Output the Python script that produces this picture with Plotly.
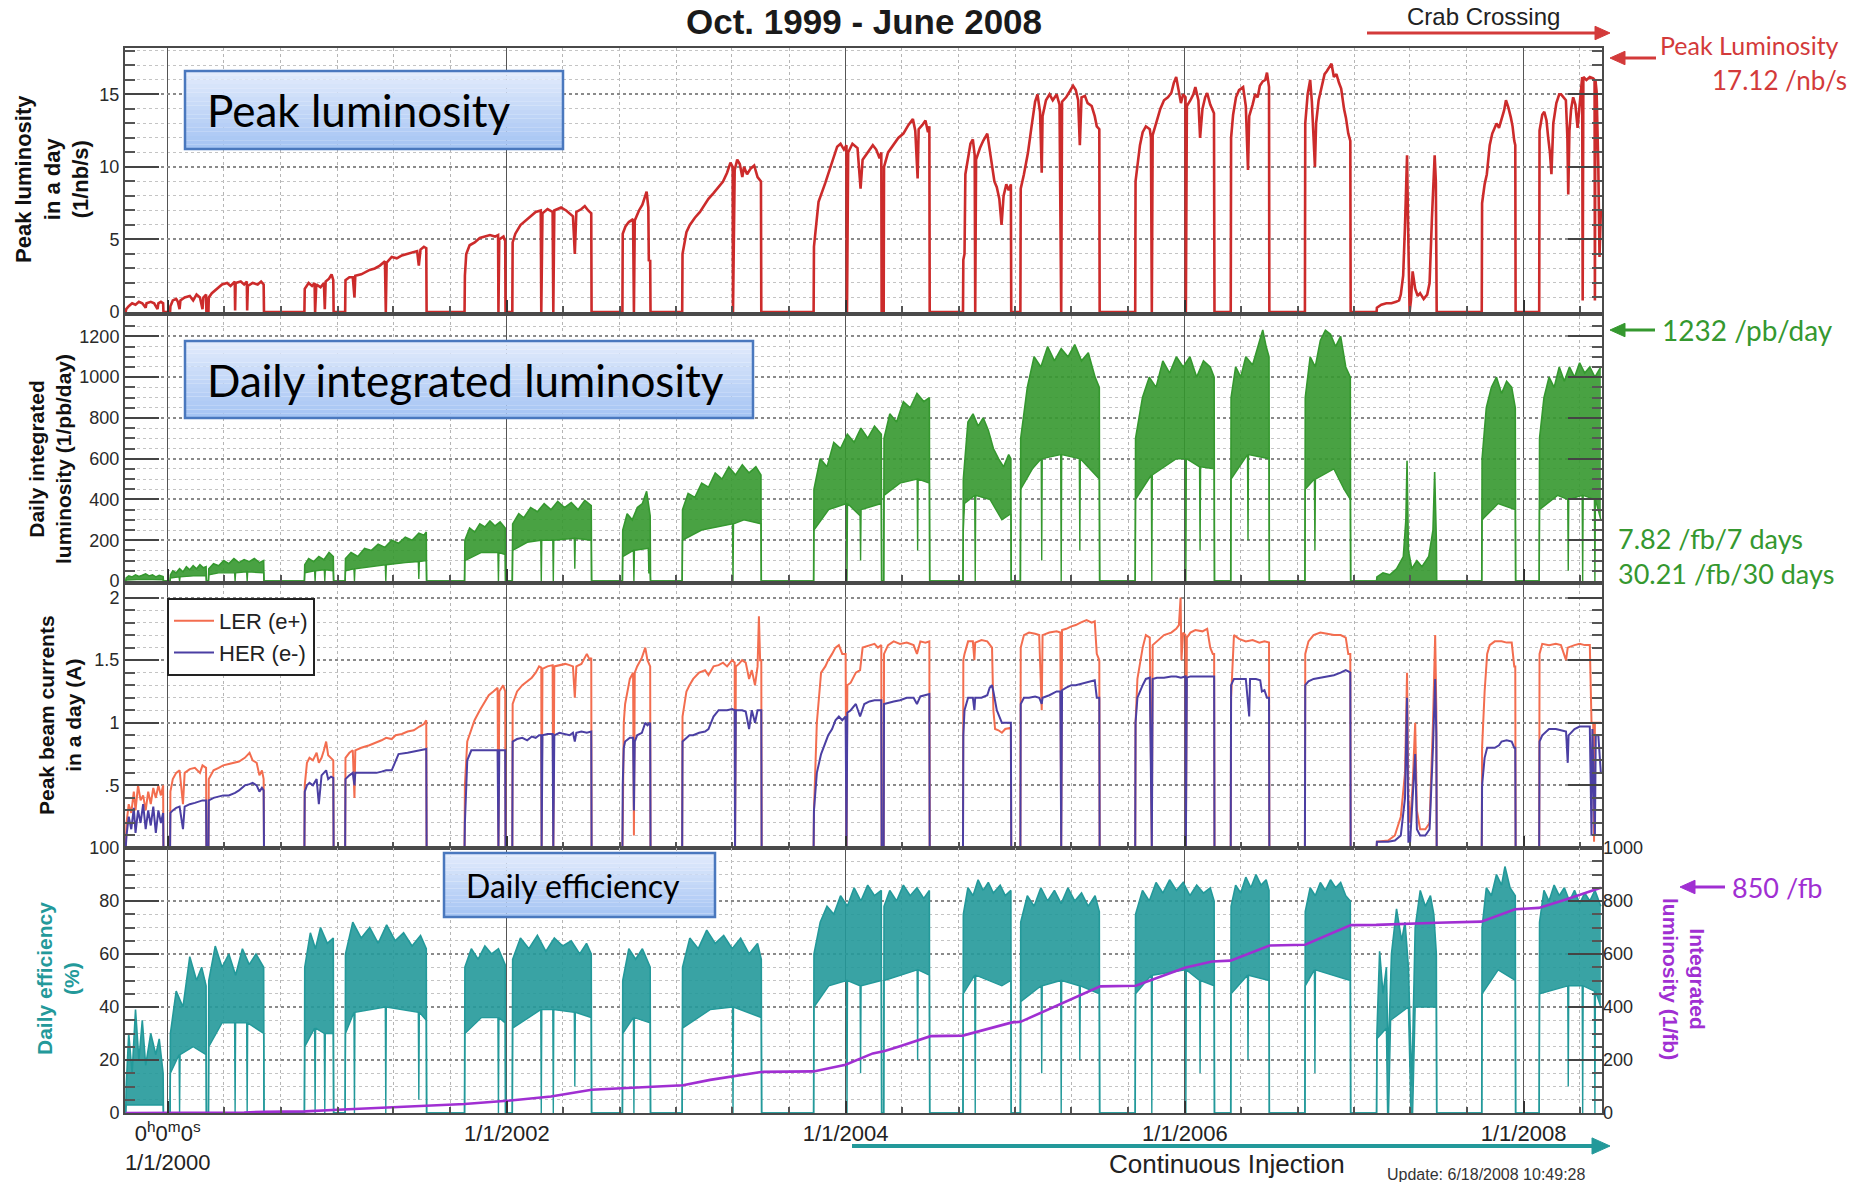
from datetime import datetime
import plotly.graph_objects as go
from plotly.subplots import make_subplots

# ---------------------------------------------------------------------------
# KEKB performance history, Oct. 1999 - June 2008.
# Times are decimal years; values as read per run period.
# ---------------------------------------------------------------------------

# Peak luminosity in a day (1/nb/s)
PEAK_LUMI = [
    (1999.752, 0.0), (1999.755, 0.2), (1999.77, 0.4), (1999.79, 0.6), (1999.81, 0.5), (1999.83, 0.7),
    (1999.85, 0.6), (1999.87, 0.3), (1999.875, 0.6), (1999.90, 0.7), (1999.92, 0.6), (1999.94, 0.2),
    (1999.945, 0.6), (1999.96, 0.7), (1999.973, 0.6), (1999.975, 0.0),
    (2000.014, 0.0), (2000.016, 0.4), (2000.03, 0.8), (2000.05, 0.9), (2000.06, 0.7), (2000.07, 0.2),
    (2000.075, 0.8), (2000.10, 1.0), (2000.13, 1.1), (2000.15, 0.8), (2000.17, 1.2), (2000.19, 1.0),
    (2000.205, 0.2), (2000.21, 1.0), (2000.226, 1.2), (2000.228, 0.0),
    (2000.240, 0.0), (2000.242, 1.0), (2000.26, 1.3), (2000.29, 1.6), (2000.32, 1.9), (2000.35, 2.0),
    (2000.37, 1.8), (2000.395, 2.1), (2000.397, 0.1), (2000.40, 2.0), (2000.43, 2.1), (2000.45, 1.9),
    (2000.466, 2.1), (2000.468, 0.1), (2000.472, 1.8), (2000.50, 2.0), (2000.53, 1.9), (2000.55, 2.1),
    (2000.565, 1.9), (2000.567, 0.0),
    (2000.805, 0.0), (2000.807, 1.6), (2000.83, 2.0), (2000.85, 1.8), (2000.865, 2.0), (2000.868, 0.0),
    (2000.875, 1.9), (2000.90, 1.7), (2000.92, 2.0), (2000.925, 0.2), (2000.93, 2.1), (2000.95, 2.3),
    (2000.965, 2.6), (2000.975, 2.2), (2000.977, 0.0),
    (2001.045, 0.0), (2001.047, 2.2), (2001.07, 2.4), (2001.09, 2.4), (2001.10, 1.0), (2001.105, 2.5),
    (2001.14, 2.6), (2001.17, 2.8), (2001.19, 2.9), (2001.22, 3.0), (2001.25, 3.2), (2001.28, 3.5),
    (2001.285, 0.0), (2001.29, 3.4), (2001.32, 3.8), (2001.35, 3.7), (2001.38, 3.9), (2001.41, 4.0),
    (2001.44, 4.1), (2001.47, 4.2), (2001.48, 3.2), (2001.49, 4.3), (2001.51, 4.5), (2001.524, 4.4),
    (2001.526, 0.0),
    (2001.750, 0.0), (2001.752, 2.5), (2001.76, 4.0), (2001.78, 4.6), (2001.81, 4.8), (2001.84, 5.1),
    (2001.87, 5.2), (2001.90, 5.3), (2001.93, 5.2), (2001.948, 5.3), (2001.95, 0.0), (2001.955, 5.0),
    (2001.98, 5.2), (2001.99, 4.9), (2001.992, 0.0),
    (2002.032, 0.0), (2002.034, 4.8), (2002.05, 5.4), (2002.08, 6.0), (2002.11, 6.3), (2002.14, 6.6),
    (2002.17, 6.9), (2002.20, 7.0), (2002.203, 0.0), (2002.21, 6.8), (2002.24, 7.1), (2002.27, 6.9),
    (2002.274, 0.0), (2002.28, 7.0), (2002.32, 7.2), (2002.35, 7.0), (2002.39, 6.6), (2002.401, 4.0),
    (2002.41, 6.9), (2002.44, 7.1), (2002.46, 7.3), (2002.48, 7.0), (2002.498, 6.8), (2002.500, 0.0),
    (2002.682, 0.0), (2002.684, 5.4), (2002.70, 5.9), (2002.72, 6.2), (2002.745, 6.4), (2002.75, 0.0),
    (2002.755, 6.3), (2002.78, 7.0), (2002.80, 7.4), (2002.825, 8.3), (2002.835, 7.2), (2002.838, 3.5),
    (2002.846, 3.6), (2002.848, 0.0),
    (2003.035, 0.0), (2003.037, 4.0), (2003.06, 5.5), (2003.08, 6.0), (2003.11, 6.5), (2003.14, 6.9),
    (2003.17, 7.4), (2003.19, 7.8), (2003.22, 8.2), (2003.25, 8.6), (2003.276, 9.0), (2003.30, 9.6),
    (2003.32, 10.3), (2003.333, 10.0), (2003.335, 0.0), (2003.345, 9.8), (2003.36, 10.5), (2003.375, 10.2),
    (2003.39, 9.3), (2003.40, 10.0), (2003.418, 9.5), (2003.44, 9.9), (2003.46, 10.1), (2003.48, 9.3),
    (2003.50, 9.0), (2003.502, 0.0),
    (2003.811, 0.0), (2003.813, 4.5), (2003.84, 7.6), (2003.88, 8.9), (2003.92, 10.4), (2003.95, 11.4),
    (2003.97, 11.6), (2003.99, 11.2), (2004.005, 11.5), (2004.008, 0.0), (2004.015, 11.0), (2004.04, 11.6),
    (2004.07, 11.3), (2004.088, 8.5), (2004.10, 10.5), (2004.13, 11.0), (2004.16, 11.5), (2004.18, 11.2),
    (2004.20, 10.6), (2004.21, 11.0), (2004.212, 0.0),
    (2004.224, 0.0), (2004.226, 10.0), (2004.25, 11.0), (2004.283, 11.6), (2004.31, 12.0), (2004.34, 12.3),
    (2004.37, 12.9), (2004.396, 13.3), (2004.41, 12.5), (2004.424, 9.2), (2004.43, 12.6), (2004.452, 12.9),
    (2004.47, 13.2), (2004.485, 12.4), (2004.493, 12.8), (2004.495, 0.0),
    (2004.691, 0.0), (2004.693, 3.6), (2004.70, 4.0), (2004.705, 9.5), (2004.721, 10.8), (2004.735, 11.6),
    (2004.749, 11.9), (2004.76, 10.8), (2004.763, 0.0), (2004.768, 10.5), (2004.791, 11.3), (2004.81, 11.8),
    (2004.834, 12.3), (2004.85, 11.0), (2004.862, 10.0), (2004.876, 9.0), (2004.89, 8.6), (2004.905, 7.8),
    (2004.918, 6.0), (2004.93, 8.0), (2004.946, 8.8), (2004.96, 8.4), (2004.973, 8.8), (2004.975, 0.0),
    (2005.029, 0.0), (2005.031, 8.5), (2005.05, 9.5), (2005.074, 11.0), (2005.095, 12.8), (2005.116, 14.5),
    (2005.13, 15.0), (2005.145, 13.8), (2005.155, 9.6), (2005.16, 13.5), (2005.18, 14.6), (2005.201, 15.0),
    (2005.22, 14.6), (2005.243, 15.0), (2005.26, 14.3), (2005.27, 0.0), (2005.275, 14.5), (2005.299, 14.8),
    (2005.32, 15.2), (2005.34, 15.6), (2005.356, 15.3), (2005.37, 14.6), (2005.38, 11.5), (2005.39, 14.8),
    (2005.41, 14.9), (2005.426, 14.4), (2005.45, 14.2), (2005.468, 13.5), (2005.48, 12.8), (2005.495, 12.6),
    (2005.497, 0.0),
    (2005.707, 0.0), (2005.709, 9.0), (2005.72, 10.2), (2005.735, 11.5), (2005.751, 12.4), (2005.77, 12.8),
    (2005.793, 12.6), (2005.80, 12.0), (2005.805, 0.0), (2005.81, 12.2), (2005.835, 13.2), (2005.855, 14.0),
    (2005.877, 14.6), (2005.90, 14.8), (2005.92, 15.1), (2005.935, 15.8), (2005.949, 16.2), (2005.96, 15.5),
    (2005.977, 14.4), (2005.99, 15.0), (2006.004, 14.8), (2006.006, 0.0), (2006.012, 14.2), (2006.033, 14.6),
    (2006.05, 15.0), (2006.062, 15.5), (2006.08, 14.6), (2006.09, 12.0), (2006.104, 14.0), (2006.12, 14.8),
    (2006.132, 15.1), (2006.15, 14.3), (2006.16, 14.0), (2006.172, 13.7), (2006.175, 0.0),
    (2006.271, 0.0), (2006.273, 12.0), (2006.285, 13.6), (2006.302, 14.8), (2006.32, 15.3), (2006.344, 15.5),
    (2006.36, 14.2), (2006.373, 9.8), (2006.38, 13.5), (2006.40, 14.3), (2006.415, 15.0), (2006.43, 14.8),
    (2006.443, 15.6), (2006.46, 15.9), (2006.475, 16.0), (2006.485, 16.5), (2006.497, 15.5), (2006.499, 0.0),
    (2006.709, 0.0), (2006.711, 13.0), (2006.725, 15.0), (2006.74, 16.0), (2006.75, 14.5), (2006.768, 10.0),
    (2006.775, 13.0), (2006.79, 14.6), (2006.81, 15.6), (2006.825, 16.4), (2006.838, 16.6), (2006.85, 16.8),
    (2006.866, 17.12), (2006.88, 16.2), (2006.895, 16.4), (2006.91, 15.8), (2006.923, 15.4), (2006.94, 14.0),
    (2006.951, 13.4), (2006.965, 12.3), (2006.977, 11.8), (2006.979, 0.0),
    (2007.132, 0.0), (2007.134, 0.3), (2007.16, 0.5), (2007.19, 0.6), (2007.22, 0.6), (2007.247, 0.7),
    (2007.265, 0.8), (2007.275, 1.2), (2007.289, 2.5), (2007.30, 6.0), (2007.312, 10.8), (2007.318, 6.0),
    (2007.323, 1.5), (2007.327, 0.0), (2007.335, 0.8), (2007.345, 2.8), (2007.36, 1.6), (2007.375, 1.1),
    (2007.389, 1.3), (2007.41, 0.9), (2007.431, 1.2), (2007.445, 2.0), (2007.459, 6.5), (2007.468, 9.5),
    (2007.475, 10.8), (2007.482, 9.0), (2007.487, 0.0),
    (2007.753, 0.0), (2007.755, 7.5), (2007.77, 8.8), (2007.783, 9.5), (2007.80, 11.5), (2007.815, 12.3),
    (2007.826, 12.6), (2007.84, 13.0), (2007.855, 12.7), (2007.87, 13.3), (2007.885, 13.9), (2007.896, 14.6),
    (2007.91, 14.1), (2007.925, 13.4), (2007.935, 12.8), (2007.945, 11.8), (2007.951, 11.5), (2007.953, 0.0),
    (2008.092, 0.0), (2008.094, 12.5), (2008.11, 13.6), (2008.122, 13.8), (2008.135, 13.2), (2008.145, 12.0),
    (2008.155, 11.0), (2008.164, 9.5), (2008.175, 13.0), (2008.193, 14.4), (2008.21, 15.0), (2008.221, 15.0),
    (2008.235, 14.8), (2008.249, 14.6), (2008.258, 12.0), (2008.263, 8.1), (2008.27, 12.5), (2008.28, 14.0),
    (2008.292, 14.8), (2008.305, 14.3), (2008.318, 12.7), (2008.33, 14.5), (2008.345, 16.2), (2008.348, 0.8),
    (2008.352, 16.2), (2008.37, 16.0), (2008.39, 16.2), (2008.41, 16.1), (2008.418, 16.0), (2008.42, 0.8),
    (2008.423, 16.0), (2008.43, 15.2), (2008.44, 10.0), (2008.447, 3.8), (2008.455, 7.0),
]

# Daily integrated luminosity (1/pb/day): upper and lower edges of the daily band
DAILY_LUMI_HIGH = [
    (1999.752, 0), (1999.755, 15), (1999.77, 25), (1999.79, 20), (1999.81, 30), (1999.83, 22), (1999.85, 28),
    (1999.87, 35), (1999.89, 25), (1999.91, 30), (1999.93, 20), (1999.95, 28), (1999.973, 22), (1999.975, 0),
    (2000.014, 0), (2000.016, 30), (2000.03, 50), (2000.05, 40), (2000.07, 60), (2000.09, 45), (2000.11, 70),
    (2000.13, 55), (2000.15, 75), (2000.17, 60), (2000.19, 80), (2000.21, 65), (2000.226, 70), (2000.228, 0),
    (2000.240, 0), (2000.242, 60), (2000.27, 85), (2000.30, 75), (2000.33, 100), (2000.36, 85), (2000.39, 110),
    (2000.42, 90), (2000.45, 105), (2000.48, 95), (2000.51, 110), (2000.54, 90), (2000.565, 100), (2000.567, 0),
    (2000.805, 0), (2000.807, 80), (2000.83, 110), (2000.86, 95), (2000.89, 120), (2000.92, 105), (2000.95, 140),
    (2000.975, 120), (2000.977, 0),
    (2001.045, 0), (2001.047, 110), (2001.08, 140), (2001.12, 120), (2001.16, 160), (2001.20, 150),
    (2001.24, 180), (2001.28, 165), (2001.32, 200), (2001.36, 185), (2001.40, 215), (2001.44, 200),
    (2001.48, 235), (2001.51, 225), (2001.524, 240), (2001.526, 0),
    (2001.750, 0), (2001.752, 200), (2001.78, 260), (2001.81, 240), (2001.84, 280), (2001.87, 265),
    (2001.90, 295), (2001.93, 270), (2001.96, 290), (2001.99, 260), (2001.992, 0),
    (2002.032, 0), (2002.034, 280), (2002.07, 330), (2002.10, 310), (2002.14, 360), (2002.18, 340),
    (2002.22, 380), (2002.26, 350), (2002.30, 390), (2002.34, 360), (2002.38, 385), (2002.42, 350),
    (2002.46, 395), (2002.498, 370), (2002.500, 0),
    (2002.682, 0), (2002.684, 250), (2002.71, 330), (2002.74, 300), (2002.77, 360), (2002.80, 380),
    (2002.825, 440), (2002.846, 320), (2002.848, 0),
    (2003.035, 0), (2003.037, 350), (2003.07, 430), (2003.11, 410), (2003.15, 480), (2003.19, 460),
    (2003.23, 530), (2003.27, 500), (2003.31, 560), (2003.35, 520), (2003.39, 570), (2003.43, 530),
    (2003.47, 560), (2003.50, 520), (2003.502, 0),
    (2003.811, 0), (2003.813, 450), (2003.85, 600), (2003.89, 560), (2003.93, 680), (2003.97, 650),
    (2004.01, 720), (2004.05, 680), (2004.09, 750), (2004.13, 700), (2004.17, 760), (2004.21, 720),
    (2004.212, 0),
    (2004.224, 0), (2004.226, 700), (2004.26, 820), (2004.30, 780), (2004.34, 880), (2004.38, 850),
    (2004.42, 920), (2004.46, 880), (2004.493, 900), (2004.495, 0),
    (2004.691, 0), (2004.693, 500), (2004.72, 780), (2004.75, 820), (2004.78, 760), (2004.81, 800),
    (2004.84, 740), (2004.87, 650), (2004.90, 600), (2004.93, 560), (2004.96, 620), (2004.973, 600),
    (2004.975, 0),
    (2005.029, 0), (2005.031, 700), (2005.07, 950), (2005.11, 1100), (2005.15, 1050), (2005.19, 1150),
    (2005.23, 1080), (2005.27, 1140), (2005.31, 1100), (2005.35, 1160), (2005.39, 1080), (2005.43, 1120),
    (2005.47, 1000), (2005.495, 950), (2005.497, 0),
    (2005.707, 0), (2005.709, 700), (2005.75, 900), (2005.79, 1000), (2005.83, 950), (2005.87, 1080),
    (2005.91, 1020), (2005.95, 1100), (2005.99, 1050), (2006.03, 1100), (2006.07, 1000), (2006.11, 1080),
    (2006.15, 1050), (2006.173, 1000), (2006.175, 0),
    (2006.271, 0), (2006.273, 900), (2006.30, 1050), (2006.33, 1000), (2006.36, 1100), (2006.40, 1060),
    (2006.43, 1150), (2006.46, 1232), (2006.48, 1150), (2006.497, 1100), (2006.499, 0),
    (2006.709, 0), (2006.711, 900), (2006.74, 1100), (2006.77, 1050), (2006.80, 1180), (2006.83, 1230),
    (2006.86, 1210), (2006.89, 1150), (2006.92, 1200), (2006.95, 1050), (2006.977, 1000), (2006.979, 0),
    (2007.132, 0), (2007.134, 20), (2007.17, 40), (2007.21, 30), (2007.25, 60), (2007.29, 120), (2007.305, 300),
    (2007.312, 590), (2007.32, 150), (2007.34, 60), (2007.37, 100), (2007.40, 70), (2007.44, 120),
    (2007.465, 250), (2007.475, 535), (2007.485, 200), (2007.487, 0),
    (2007.753, 0), (2007.755, 600), (2007.78, 850), (2007.81, 950), (2007.84, 1000), (2007.87, 920),
    (2007.90, 980), (2007.93, 950), (2007.951, 850), (2007.953, 0),
    (2008.092, 0), (2008.094, 700), (2008.12, 900), (2008.15, 1000), (2008.18, 950), (2008.21, 1050),
    (2008.24, 980), (2008.27, 1050), (2008.30, 1000), (2008.33, 1070), (2008.36, 1020), (2008.39, 1050),
    (2008.42, 1000), (2008.455, 1050),
]
DAILY_LUMI_LOW = [
    (1999.752, 0), (1999.755, 5), (1999.85, 8), (1999.973, 6), (1999.975, 0),
    (2000.014, 0), (2000.016, 15), (2000.067, 20), (2000.07, 0), (2000.073, 20), (2000.15, 25), (2000.226, 25),
    (2000.228, 0),
    (2000.240, 0), (2000.242, 30), (2000.30, 40), (2000.394, 40), (2000.397, 0), (2000.40, 40), (2000.465, 45),
    (2000.468, 0), (2000.471, 45), (2000.565, 40), (2000.567, 0),
    (2000.805, 0), (2000.807, 40), (2000.865, 50), (2000.868, 0), (2000.871, 50), (2000.922, 55), (2000.925, 0),
    (2000.928, 55), (2000.975, 50), (2000.977, 0),
    (2001.045, 0), (2001.047, 50), (2001.097, 60), (2001.10, 0), (2001.103, 60), (2001.20, 70), (2001.282, 80),
    (2001.285, 0), (2001.288, 80), (2001.40, 90), (2001.477, 95), (2001.48, 10), (2001.483, 95), (2001.524, 100),
    (2001.526, 0),
    (2001.750, 0), (2001.752, 100), (2001.85, 140), (2001.947, 140), (2001.95, 0), (2001.953, 140),
    (2001.99, 130), (2001.992, 0),
    (2002.032, 0), (2002.034, 150), (2002.12, 190), (2002.200, 200), (2002.203, 0), (2002.206, 200),
    (2002.271, 200), (2002.274, 0), (2002.277, 200), (2002.398, 210), (2002.401, 60), (2002.404, 210),
    (2002.498, 200), (2002.500, 0),
    (2002.682, 0), (2002.684, 120), (2002.747, 150), (2002.75, 0), (2002.753, 150), (2002.835, 160),
    (2002.838, 40), (2002.846, 40), (2002.848, 0),
    (2003.035, 0), (2003.037, 200), (2003.15, 250), (2003.332, 280), (2003.335, 0), (2003.338, 280),
    (2003.40, 300), (2003.50, 280), (2003.502, 0),
    (2003.811, 0), (2003.813, 250), (2003.90, 350), (2004.005, 380), (2004.008, 0), (2004.011, 380),
    (2004.085, 320), (2004.088, 100), (2004.091, 350), (2004.21, 380), (2004.212, 0),
    (2004.224, 0), (2004.226, 420), (2004.32, 480), (2004.421, 500), (2004.424, 150), (2004.427, 500),
    (2004.493, 480), (2004.495, 0),
    (2004.691, 0), (2004.693, 250), (2004.70, 380), (2004.760, 420), (2004.763, 0), (2004.766, 420),
    (2004.85, 400), (2004.92, 300), (2004.973, 330), (2004.975, 0),
    (2005.029, 0), (2005.031, 450), (2005.10, 550), (2005.152, 600), (2005.155, 100), (2005.158, 600),
    (2005.267, 620), (2005.27, 0), (2005.273, 620), (2005.377, 600), (2005.38, 150), (2005.383, 600),
    (2005.495, 500), (2005.497, 0),
    (2005.707, 0), (2005.709, 400), (2005.802, 520), (2005.805, 0), (2005.808, 520), (2005.95, 600),
    (2006.003, 600), (2006.006, 0), (2006.009, 600), (2006.087, 560), (2006.09, 150), (2006.093, 560),
    (2006.173, 550), (2006.175, 0),
    (2006.271, 0), (2006.273, 500), (2006.370, 620), (2006.373, 200), (2006.376, 620), (2006.497, 600),
    (2006.499, 0),
    (2006.709, 0), (2006.711, 450), (2006.765, 500), (2006.768, 150), (2006.771, 500), (2006.88, 550),
    (2006.94, 450), (2006.977, 400), (2006.979, 0),
    (2007.132, 0), (2007.487, 0),
    (2007.753, 0), (2007.755, 300), (2007.85, 380), (2007.951, 350), (2007.953, 0),
    (2008.092, 0), (2008.094, 350), (2008.20, 420), (2008.260, 400), (2008.263, 50), (2008.266, 400),
    (2008.345, 420), (2008.348, 0), (2008.351, 420), (2008.417, 400), (2008.42, 0), (2008.423, 400),
    (2008.455, 300),
]

# Peak beam currents in a day (A)
LER_CURRENT = [
    (1999.752, 0), (1999.757, 0.2), (1999.77, 0.35), (1999.785, 0.28), (1999.80, 0.45), (1999.81, 0.3),
    (1999.825, 0.5), (1999.84, 0.38), (1999.855, 0.42), (1999.87, 0.3), (1999.885, 0.45), (1999.90, 0.35),
    (1999.915, 0.48), (1999.93, 0.4), (1999.945, 0.5), (1999.96, 0.42), (1999.973, 0.5), (1999.975, 0),
    (2000.014, 0), (2000.016, 0.45), (2000.03, 0.55), (2000.05, 0.6), (2000.07, 0.62), (2000.09, 0.35),
    (2000.10, 0.6), (2000.13, 0.63), (2000.16, 0.64), (2000.19, 0.6), (2000.205, 0.66), (2000.226, 0.64),
    (2000.228, 0),
    (2000.240, 0), (2000.242, 0.55), (2000.27, 0.62), (2000.30, 0.64), (2000.327, 0.66), (2000.36, 0.67),
    (2000.397, 0.68), (2000.42, 0.69), (2000.454, 0.72), (2000.482, 0.76), (2000.50, 0.7), (2000.524, 0.68),
    (2000.54, 0.58), (2000.555, 0.62), (2000.565, 0.55), (2000.567, 0),
    (2000.805, 0), (2000.807, 0.5), (2000.82, 0.68), (2000.835, 0.72), (2000.855, 0.7), (2000.877, 0.76),
    (2000.89, 0.68), (2000.906, 0.72), (2000.92, 0.78), (2000.933, 0.85), (2000.945, 0.74), (2000.962, 0.72),
    (2000.975, 0.7), (2000.977, 0),
    (2001.045, 0), (2001.047, 0.72), (2001.07, 0.76), (2001.09, 0.78), (2001.10, 0.4), (2001.105, 0.78),
    (2001.14, 0.8), (2001.188, 0.82), (2001.23, 0.84), (2001.26, 0.86), (2001.287, 0.88), (2001.32, 0.87),
    (2001.343, 0.9), (2001.38, 0.91), (2001.414, 0.93), (2001.45, 0.94), (2001.484, 0.97), (2001.51, 0.99),
    (2001.524, 1.02), (2001.526, 0),
    (2001.750, 0), (2001.752, 0.5), (2001.766, 0.85), (2001.79, 0.95), (2001.809, 1.02), (2001.84, 1.1),
    (2001.865, 1.16), (2001.893, 1.22), (2001.92, 1.25), (2001.945, 1.28), (2001.95, 0.0), (2001.955, 1.25),
    (2001.978, 1.3), (2001.99, 1.25), (2001.992, 0),
    (2002.032, 0), (2002.034, 1.15), (2002.06, 1.25), (2002.091, 1.3), (2002.12, 1.33), (2002.147, 1.36),
    (2002.17, 1.4), (2002.19, 1.45), (2002.203, 1.44), (2002.205, 0), (2002.21, 1.43), (2002.24, 1.45),
    (2002.27, 1.46), (2002.274, 0), (2002.28, 1.45), (2002.31, 1.46), (2002.345, 1.47), (2002.37, 1.46),
    (2002.39, 1.45), (2002.401, 1.2), (2002.41, 1.45), (2002.44, 1.47), (2002.472, 1.55), (2002.49, 1.5),
    (2002.498, 1.52), (2002.500, 0),
    (2002.682, 0), (2002.684, 0.17), (2002.69, 1.0), (2002.698, 1.15), (2002.726, 1.35), (2002.745, 1.4),
    (2002.75, 0.1), (2002.755, 1.4), (2002.769, 1.45), (2002.797, 1.52), (2002.817, 1.6), (2002.83, 1.5),
    (2002.846, 1.45), (2002.848, 0),
    (2003.035, 0), (2003.037, 1.05), (2003.06, 1.25), (2003.078, 1.3), (2003.10, 1.35), (2003.135, 1.4),
    (2003.17, 1.42), (2003.19, 1.38), (2003.22, 1.45), (2003.25, 1.46), (2003.276, 1.48), (2003.30, 1.45),
    (2003.33, 1.5), (2003.345, 1.48), (2003.347, 0), (2003.352, 1.45), (2003.37, 1.47), (2003.389, 1.5),
    (2003.41, 1.48), (2003.43, 1.35), (2003.446, 1.42), (2003.465, 1.3), (2003.48, 1.45), (2003.488, 1.85),
    (2003.495, 1.5), (2003.502, 1.5), (2003.504, 0),
    (2003.811, 0), (2003.813, 0.3), (2003.83, 1.0), (2003.855, 1.4), (2003.88, 1.45), (2003.897, 1.5),
    (2003.92, 1.55), (2003.94, 1.6), (2003.96, 1.62), (2003.98, 1.55), (2004.0, 1.55), (2004.005, 0),
    (2004.01, 1.3), (2004.03, 1.32), (2004.06, 1.4), (2004.085, 1.42), (2004.10, 1.6), (2004.14, 1.62),
    (2004.17, 1.63), (2004.19, 1.6), (2004.21, 1.62), (2004.212, 0),
    (2004.224, 0), (2004.226, 1.55), (2004.25, 1.62), (2004.283, 1.65), (2004.32, 1.63), (2004.36, 1.64),
    (2004.40, 1.62), (2004.42, 1.55), (2004.44, 1.65), (2004.47, 1.64), (2004.493, 1.65), (2004.495, 0),
    (2004.691, 0), (2004.693, 1.5), (2004.70, 1.55), (2004.721, 1.65), (2004.749, 1.65), (2004.758, 1.5),
    (2004.763, 1.64), (2004.80, 1.66), (2004.834, 1.65), (2004.862, 1.6), (2004.87, 1.1), (2004.88, 0.95),
    (2004.90, 0.94), (2004.92, 0.92), (2004.94, 0.95), (2004.973, 0.96), (2004.975, 0),
    (2005.029, 0), (2005.031, 1.6), (2005.05, 1.7), (2005.08, 1.72), (2005.116, 1.71), (2005.14, 1.7),
    (2005.155, 1.1), (2005.16, 1.7), (2005.20, 1.72), (2005.243, 1.73), (2005.265, 1.72), (2005.27, 0),
    (2005.275, 1.74), (2005.30, 1.75), (2005.33, 1.77), (2005.356, 1.78), (2005.384, 1.8), (2005.42, 1.82),
    (2005.45, 1.8), (2005.468, 1.81), (2005.48, 1.55), (2005.495, 1.5), (2005.497, 0),
    (2005.707, 0), (2005.709, 1.0), (2005.72, 1.35), (2005.751, 1.6), (2005.77, 1.7), (2005.793, 1.68),
    (2005.805, 0), (2005.81, 1.62), (2005.835, 1.65), (2005.877, 1.7), (2005.92, 1.72), (2005.949, 1.75),
    (2005.965, 1.78), (2005.975, 2.0), (2005.98, 1.5), (2005.99, 1.72), (2006.004, 1.7), (2006.006, 0),
    (2006.012, 1.68), (2006.033, 1.72), (2006.062, 1.74), (2006.104, 1.73), (2006.132, 1.75), (2006.15, 1.6),
    (2006.165, 1.55), (2006.173, 1.55), (2006.175, 0),
    (2006.271, 0), (2006.273, 1.2), (2006.29, 1.7), (2006.32, 1.67), (2006.36, 1.65), (2006.40, 1.66),
    (2006.44, 1.64), (2006.47, 1.65), (2006.497, 1.64), (2006.499, 0),
    (2006.709, 0), (2006.711, 1.55), (2006.73, 1.65), (2006.76, 1.7), (2006.80, 1.72), (2006.84, 1.71),
    (2006.88, 1.7), (2006.92, 1.7), (2006.95, 1.68), (2006.965, 1.55), (2006.977, 1.55), (2006.979, 0),
    (2007.132, 0), (2007.134, 0.05), (2007.20, 0.06), (2007.24, 0.1), (2007.275, 0.25), (2007.30, 0.6),
    (2007.312, 1.4), (2007.32, 0.4), (2007.33, 0.2), (2007.345, 0.5), (2007.36, 1.0), (2007.37, 0.3),
    (2007.389, 0.15), (2007.42, 0.15), (2007.445, 0.2), (2007.465, 1.0), (2007.478, 1.7), (2007.485, 1.1),
    (2007.487, 0),
    (2007.753, 0), (2007.755, 0.8), (2007.77, 1.25), (2007.785, 1.55), (2007.80, 1.62), (2007.83, 1.65),
    (2007.87, 1.65), (2007.90, 1.64), (2007.93, 1.64), (2007.945, 1.45), (2007.951, 1.45), (2007.953, 0),
    (2008.092, 0), (2008.094, 1.55), (2008.11, 1.63), (2008.15, 1.62), (2008.19, 1.63), (2008.22, 1.62),
    (2008.25, 1.5), (2008.26, 1.6), (2008.30, 1.62), (2008.33, 1.63), (2008.36, 1.62), (2008.39, 1.62),
    (2008.40, 1.0), (2008.41, 1.0), (2008.415, 0.05), (2008.42, 1.0), (2008.44, 1.0), (2008.455, 1.0),
]

HER_CURRENT = [
    (1999.752, 0), (1999.757, 0.1), (1999.77, 0.25), (1999.785, 0.15), (1999.80, 0.32), (1999.81, 0.12),
    (1999.825, 0.3), (1999.84, 0.2), (1999.855, 0.35), (1999.87, 0.15), (1999.885, 0.3), (1999.90, 0.18),
    (1999.915, 0.33), (1999.93, 0.12), (1999.945, 0.3), (1999.96, 0.2), (1999.973, 0.28), (1999.975, 0),
    (2000.014, 0), (2000.016, 0.28), (2000.03, 0.3), (2000.05, 0.32), (2000.07, 0.33), (2000.09, 0.15),
    (2000.10, 0.33), (2000.13, 0.35), (2000.16, 0.36), (2000.19, 0.37), (2000.205, 0.38), (2000.226, 0.38),
    (2000.228, 0),
    (2000.240, 0), (2000.242, 0.38), (2000.27, 0.4), (2000.30, 0.41), (2000.327, 0.42), (2000.36, 0.42),
    (2000.397, 0.44), (2000.42, 0.46), (2000.454, 0.5), (2000.482, 0.51), (2000.50, 0.52), (2000.524, 0.5),
    (2000.54, 0.45), (2000.555, 0.48), (2000.565, 0.46), (2000.567, 0),
    (2000.805, 0), (2000.807, 0.45), (2000.82, 0.5), (2000.835, 0.52), (2000.855, 0.5), (2000.877, 0.55),
    (2000.89, 0.35), (2000.906, 0.58), (2000.92, 0.6), (2000.933, 0.62), (2000.945, 0.55), (2000.962, 0.57),
    (2000.975, 0.56), (2000.977, 0),
    (2001.045, 0), (2001.047, 0.55), (2001.07, 0.58), (2001.09, 0.6), (2001.10, 0.5), (2001.105, 0.6),
    (2001.14, 0.6), (2001.188, 0.6), (2001.23, 0.6), (2001.26, 0.61), (2001.287, 0.62), (2001.32, 0.62),
    (2001.343, 0.7), (2001.36, 0.75), (2001.414, 0.76), (2001.45, 0.77), (2001.484, 0.78), (2001.51, 0.79),
    (2001.524, 0.79), (2001.526, 0),
    (2001.750, 0), (2001.752, 0.2), (2001.766, 0.7), (2001.79, 0.78), (2001.809, 0.78), (2001.84, 0.78),
    (2001.865, 0.78), (2001.893, 0.78), (2001.92, 0.78), (2001.945, 0.78), (2001.95, 0), (2001.955, 0.78),
    (2001.978, 0.78), (2001.99, 0.78), (2001.992, 0),
    (2002.032, 0), (2002.034, 0.85), (2002.06, 0.87), (2002.091, 0.88), (2002.12, 0.86), (2002.147, 0.89),
    (2002.17, 0.88), (2002.19, 0.9), (2002.203, 0.9), (2002.205, 0), (2002.21, 0.9), (2002.24, 0.91),
    (2002.27, 0.91), (2002.274, 0), (2002.28, 0.9), (2002.31, 0.92), (2002.345, 0.91), (2002.37, 0.9),
    (2002.39, 0.92), (2002.401, 0.85), (2002.41, 0.92), (2002.44, 0.93), (2002.472, 0.92), (2002.49, 0.93),
    (2002.498, 0.93), (2002.500, 0),
    (2002.682, 0), (2002.684, 0.5), (2002.69, 0.8), (2002.698, 0.85), (2002.726, 0.88), (2002.745, 0.88),
    (2002.75, 0.3), (2002.755, 0.85), (2002.769, 0.9), (2002.797, 0.92), (2002.817, 1.0), (2002.83, 0.98),
    (2002.846, 1.0), (2002.848, 0),
    (2003.035, 0), (2003.037, 0.85), (2003.06, 0.88), (2003.078, 0.9), (2003.10, 0.9), (2003.135, 0.92),
    (2003.17, 0.93), (2003.19, 0.95), (2003.22, 1.05), (2003.25, 1.1), (2003.276, 1.1), (2003.30, 1.1),
    (2003.33, 1.11), (2003.345, 1.1), (2003.347, 0), (2003.352, 1.1), (2003.37, 1.1), (2003.389, 1.1),
    (2003.41, 1.09), (2003.43, 0.95), (2003.446, 1.1), (2003.465, 1.0), (2003.48, 1.1), (2003.502, 1.1),
    (2003.504, 0),
    (2003.811, 0), (2003.813, 0.3), (2003.83, 0.6), (2003.855, 0.75), (2003.88, 0.85), (2003.897, 0.9),
    (2003.92, 0.95), (2003.94, 1.02), (2003.96, 1.05), (2003.98, 1.02), (2004.0, 1.05), (2004.005, 0),
    (2004.01, 1.08), (2004.03, 1.1), (2004.06, 1.15), (2004.085, 1.05), (2004.11, 1.15), (2004.14, 1.17),
    (2004.17, 1.18), (2004.19, 1.18), (2004.21, 1.18), (2004.212, 0),
    (2004.224, 0), (2004.226, 1.15), (2004.25, 1.16), (2004.283, 1.17), (2004.32, 1.18), (2004.36, 1.2),
    (2004.40, 1.2), (2004.42, 1.15), (2004.44, 1.21), (2004.47, 1.22), (2004.493, 1.23), (2004.495, 0),
    (2004.691, 0), (2004.693, 0.9), (2004.70, 1.1), (2004.721, 1.2), (2004.749, 1.2), (2004.758, 1.1),
    (2004.763, 1.2), (2004.80, 1.2), (2004.834, 1.22), (2004.848, 1.28), (2004.862, 1.3), (2004.87, 1.25),
    (2004.89, 1.1), (2004.92, 1.0), (2004.94, 1.0), (2004.973, 1.0), (2004.975, 0),
    (2005.029, 0), (2005.031, 1.15), (2005.05, 1.2), (2005.08, 1.2), (2005.116, 1.21), (2005.14, 1.2),
    (2005.155, 1.15), (2005.16, 1.2), (2005.20, 1.22), (2005.243, 1.25), (2005.265, 1.25), (2005.27, 0),
    (2005.275, 1.26), (2005.30, 1.28), (2005.33, 1.3), (2005.356, 1.3), (2005.384, 1.31), (2005.42, 1.32),
    (2005.45, 1.33), (2005.468, 1.34), (2005.48, 1.2), (2005.495, 1.2), (2005.497, 0),
    (2005.707, 0), (2005.709, 1.0), (2005.72, 1.2), (2005.751, 1.3), (2005.77, 1.35), (2005.793, 1.36),
    (2005.805, 0), (2005.81, 1.35), (2005.835, 1.36), (2005.877, 1.36), (2005.92, 1.37), (2005.949, 1.37),
    (2005.977, 1.36), (2006.004, 1.37), (2006.006, 0), (2006.012, 1.36), (2006.033, 1.37), (2006.062, 1.37),
    (2006.104, 1.37), (2006.132, 1.37), (2006.173, 1.37), (2006.175, 0),
    (2006.271, 0), (2006.273, 1.3), (2006.29, 1.35), (2006.32, 1.35), (2006.36, 1.35), (2006.38, 1.05),
    (2006.385, 1.35), (2006.42, 1.35), (2006.445, 1.34), (2006.455, 1.25), (2006.47, 1.26), (2006.485, 1.2),
    (2006.497, 1.2), (2006.499, 0),
    (2006.709, 0), (2006.711, 1.3), (2006.73, 1.33), (2006.76, 1.35), (2006.80, 1.36), (2006.84, 1.37),
    (2006.88, 1.38), (2006.92, 1.4), (2006.95, 1.42), (2006.965, 1.41), (2006.977, 1.4), (2006.979, 0),
    (2007.132, 0), (2007.134, 0.05), (2007.20, 0.05), (2007.24, 0.06), (2007.275, 0.1), (2007.30, 0.4),
    (2007.312, 1.2), (2007.32, 0.05), (2007.33, 0.05), (2007.345, 0.4), (2007.36, 0.75), (2007.37, 0.15),
    (2007.389, 0.1), (2007.42, 0.1), (2007.445, 0.15), (2007.465, 0.8), (2007.478, 1.35), (2007.485, 0.9),
    (2007.487, 0),
    (2007.753, 0), (2007.755, 0.5), (2007.77, 0.72), (2007.785, 0.8), (2007.80, 0.8), (2007.83, 0.8),
    (2007.855, 0.82), (2007.87, 0.85), (2007.90, 0.86), (2007.93, 0.85), (2007.945, 0.8), (2007.951, 0.8),
    (2007.953, 0),
    (2008.092, 0), (2008.094, 0.85), (2008.11, 0.9), (2008.15, 0.95), (2008.19, 0.95), (2008.22, 0.94),
    (2008.25, 0.93), (2008.26, 0.68), (2008.265, 0.9), (2008.30, 0.95), (2008.33, 0.97), (2008.36, 0.97),
    (2008.39, 0.97), (2008.40, 0.1), (2008.405, 0.95), (2008.42, 0.1), (2008.425, 0.9), (2008.44, 0.9),
    (2008.455, 0.6),
]

# Daily efficiency (%): upper and lower edges of the daily band
EFFICIENCY_HIGH = [
    (1999.752, 0), (1999.755, 10), (1999.77, 30), (1999.79, 15), (1999.81, 39), (1999.83, 20), (1999.85, 35),
    (1999.87, 18), (1999.90, 30), (1999.93, 22), (1999.95, 28), (1999.973, 15), (1999.975, 0),
    (2000.014, 0), (2000.016, 30), (2000.05, 46), (2000.09, 40), (2000.13, 59), (2000.17, 50), (2000.20, 55),
    (2000.226, 48), (2000.228, 0),
    (2000.240, 0), (2000.242, 50), (2000.28, 63), (2000.32, 55), (2000.36, 60), (2000.40, 52), (2000.44, 62),
    (2000.48, 56), (2000.52, 60), (2000.565, 55), (2000.567, 0),
    (2000.805, 0), (2000.807, 55), (2000.84, 68), (2000.87, 62), (2000.90, 70), (2000.94, 64), (2000.975, 66),
    (2000.977, 0),
    (2001.045, 0), (2001.047, 60), (2001.09, 72), (2001.14, 66), (2001.19, 70), (2001.24, 64), (2001.29, 71),
    (2001.34, 65), (2001.39, 68), (2001.44, 63), (2001.49, 67), (2001.524, 62), (2001.526, 0),
    (2001.750, 0), (2001.752, 55), (2001.79, 62), (2001.83, 58), (2001.87, 63), (2001.91, 60), (2001.95, 62),
    (2001.99, 56), (2001.992, 0),
    (2002.032, 0), (2002.034, 58), (2002.08, 66), (2002.13, 62), (2002.18, 67), (2002.23, 61), (2002.28, 66),
    (2002.33, 63), (2002.38, 65), (2002.43, 60), (2002.47, 64), (2002.498, 60), (2002.500, 0),
    (2002.682, 0), (2002.684, 50), (2002.72, 62), (2002.76, 58), (2002.80, 62), (2002.846, 55), (2002.848, 0),
    (2003.035, 0), (2003.037, 55), (2003.08, 66), (2003.13, 62), (2003.18, 69), (2003.23, 64), (2003.28, 67),
    (2003.33, 62), (2003.38, 66), (2003.43, 60), (2003.48, 64), (2003.502, 58), (2003.504, 0),
    (2003.811, 0), (2003.813, 60), (2003.85, 72), (2003.89, 78), (2003.93, 75), (2003.97, 82), (2004.01, 78),
    (2004.05, 85), (2004.09, 80), (2004.13, 86), (2004.17, 82), (2004.21, 84), (2004.212, 0),
    (2004.224, 0), (2004.226, 78), (2004.26, 84), (2004.30, 80), (2004.34, 86), (2004.38, 82), (2004.42, 85),
    (2004.46, 81), (2004.493, 84), (2004.495, 0),
    (2004.691, 0), (2004.693, 75), (2004.72, 85), (2004.75, 82), (2004.78, 88), (2004.81, 84), (2004.84, 87),
    (2004.87, 83), (2004.91, 86), (2004.94, 82), (2004.973, 84), (2004.975, 0),
    (2005.029, 0), (2005.031, 72), (2005.07, 82), (2005.11, 78), (2005.15, 85), (2005.19, 80), (2005.23, 84),
    (2005.27, 79), (2005.31, 85), (2005.35, 80), (2005.39, 83), (2005.43, 78), (2005.47, 82), (2005.495, 76),
    (2005.497, 0),
    (2005.707, 0), (2005.709, 75), (2005.75, 84), (2005.79, 80), (2005.83, 87), (2005.87, 83), (2005.91, 88),
    (2005.95, 84), (2005.99, 87), (2006.03, 82), (2006.07, 86), (2006.11, 83), (2006.15, 85), (2006.173, 80),
    (2006.175, 0),
    (2006.271, 0), (2006.273, 78), (2006.30, 86), (2006.33, 83), (2006.36, 89), (2006.39, 85), (2006.42, 90),
    (2006.45, 86), (2006.48, 88), (2006.497, 84), (2006.499, 0),
    (2006.709, 0), (2006.711, 76), (2006.74, 85), (2006.77, 82), (2006.80, 87), (2006.83, 84), (2006.86, 88),
    (2006.89, 85), (2006.92, 87), (2006.95, 82), (2006.977, 80), (2006.979, 0),
    (2007.132, 0), (2007.134, 30), (2007.15, 61), (2007.17, 45), (2007.19, 55), (2007.20, 20), (2007.22, 60),
    (2007.25, 77), (2007.28, 65), (2007.30, 72), (2007.32, 55), (2007.34, 10), (2007.36, 70), (2007.39, 84),
    (2007.42, 78), (2007.45, 82), (2007.47, 75), (2007.485, 60), (2007.487, 0),
    (2007.753, 0), (2007.755, 70), (2007.78, 85), (2007.81, 82), (2007.84, 90), (2007.87, 86), (2007.89, 93),
    (2007.92, 85), (2007.951, 82), (2007.953, 0),
    (2008.092, 0), (2008.094, 72), (2008.12, 84), (2008.15, 80), (2008.18, 86), (2008.21, 82), (2008.24, 85),
    (2008.27, 80), (2008.30, 84), (2008.33, 79), (2008.36, 83), (2008.39, 80), (2008.42, 84), (2008.455, 78),
]
EFFICIENCY_LOW = [
    (1999.752, 0), (1999.755, 3), (1999.973, 3), (1999.975, 0),
    (2000.014, 0), (2000.016, 15), (2000.067, 22), (2000.07, 0), (2000.073, 22), (2000.15, 25),
    (2000.226, 22), (2000.228, 0),
    (2000.240, 0), (2000.242, 25), (2000.32, 34), (2000.394, 34), (2000.397, 0), (2000.40, 34),
    (2000.465, 34), (2000.468, 0), (2000.471, 34), (2000.565, 30), (2000.567, 0),
    (2000.805, 0), (2000.807, 25), (2000.865, 32), (2000.868, 0), (2000.871, 32), (2000.922, 30),
    (2000.925, 0), (2000.928, 30), (2000.975, 30), (2000.977, 0),
    (2001.045, 0), (2001.047, 30), (2001.097, 38), (2001.10, 0), (2001.103, 38), (2001.282, 40),
    (2001.285, 0), (2001.288, 40), (2001.477, 38), (2001.48, 5), (2001.483, 38), (2001.524, 35),
    (2001.526, 0),
    (2001.750, 0), (2001.752, 30), (2001.85, 36), (2001.947, 36), (2001.95, 0), (2001.953, 36),
    (2001.99, 34), (2001.992, 0),
    (2002.032, 0), (2002.034, 32), (2002.200, 39), (2002.203, 0), (2002.206, 39), (2002.271, 39),
    (2002.274, 0), (2002.277, 39), (2002.398, 38), (2002.401, 10), (2002.404, 38), (2002.498, 36),
    (2002.500, 0),
    (2002.682, 0), (2002.684, 30), (2002.747, 36), (2002.75, 0), (2002.753, 36), (2002.846, 34),
    (2002.848, 0),
    (2003.035, 0), (2003.037, 32), (2003.20, 39), (2003.332, 40), (2003.335, 0), (2003.338, 40),
    (2003.502, 36), (2003.504, 0),
    (2003.811, 0), (2003.813, 40), (2003.90, 48), (2004.005, 50), (2004.008, 0), (2004.011, 50),
    (2004.085, 48), (2004.088, 15), (2004.091, 48), (2004.21, 50), (2004.212, 0),
    (2004.224, 0), (2004.226, 50), (2004.421, 54), (2004.424, 20), (2004.427, 54), (2004.493, 52),
    (2004.495, 0),
    (2004.691, 0), (2004.693, 45), (2004.760, 52), (2004.763, 0), (2004.766, 52), (2004.92, 48),
    (2004.973, 50), (2004.975, 0),
    (2005.029, 0), (2005.031, 42), (2005.152, 48), (2005.155, 15), (2005.158, 48), (2005.267, 50),
    (2005.27, 0), (2005.273, 50), (2005.377, 48), (2005.38, 20), (2005.383, 48), (2005.495, 45),
    (2005.497, 0),
    (2005.707, 0), (2005.709, 45), (2005.802, 52), (2005.805, 0), (2005.808, 52), (2006.003, 54),
    (2006.006, 0), (2006.009, 54), (2006.087, 50), (2006.09, 15), (2006.093, 50), (2006.173, 48),
    (2006.175, 0),
    (2006.271, 0), (2006.273, 45), (2006.370, 52), (2006.373, 20), (2006.376, 52), (2006.497, 50),
    (2006.499, 0),
    (2006.709, 0), (2006.711, 48), (2006.765, 54), (2006.768, 15), (2006.771, 54), (2006.977, 50),
    (2006.979, 0),
    (2007.132, 0), (2007.134, 28), (2007.19, 32), (2007.197, 0), (2007.203, 0), (2007.215, 35),
    (2007.32, 40), (2007.335, 0), (2007.345, 0), (2007.36, 40), (2007.485, 40), (2007.487, 0),
    (2007.753, 0), (2007.755, 45), (2007.85, 54), (2007.951, 50), (2007.953, 0),
    (2008.092, 0), (2008.094, 45), (2008.260, 48), (2008.263, 10), (2008.266, 48), (2008.345, 48),
    (2008.348, 0), (2008.351, 48), (2008.417, 46), (2008.42, 0), (2008.423, 46), (2008.455, 40),
]

# Integrated luminosity (1/fb)
INTEGRATED_LUMI = [
    (1999.752, 0), (2000.0, 0), (2000.45, 2), (2000.57, 5), (2000.81, 6), (2001.0, 12), (2001.53, 28),
    (2001.75, 34), (2002.0, 46), (2002.26, 62), (2002.5, 88), (2002.68, 93), (2002.85, 100), (2003.04, 105),
    (2003.2, 125), (2003.5, 155), (2003.81, 157), (2004.0, 182), (2004.16, 225), (2004.23, 234), (2004.32, 252),
    (2004.5, 290), (2004.69, 292), (2004.98, 342), (2005.03, 344), (2005.5, 478), (2005.71, 480), (2006.0, 548),
    (2006.16, 572), (2006.27, 575), (2006.5, 632), (2006.71, 635), (2006.98, 709), (2007.13, 710), (2007.49, 718),
    (2007.75, 722), (2007.95, 769), (2008.09, 774), (2008.24, 804), (2008.39, 835), (2008.455, 850),
]

X_TICK_DATES = ["2000-01-01", "2002-01-01", "2004-01-01", "2006-01-01", "2008-01-01"]
X_TICK_TEXT = ["0<sup>h</sup>0<sup>m</sup>0<sup>s</sup><br>1/1/2000", "1/1/2002", "1/1/2004", "1/1/2006", "1/1/2008"]
X_RANGE = ["1999-10-01", "2008-06-18"]

RED = "#cc2b2b"
GREEN = "#35982f"
GREEN_FILL = "rgba(53,152,47,0.9)"
LER_COLOR = "#f36d4f"
HER_COLOR = "#4b3fa3"
TEAL = "#23999a"
TEAL_FILL = "rgba(35,153,154,0.9)"
PURPLE = "#a02fd2"
ARROW_RED = "#d33a3a"
AXIS_FONT = "Liberation Sans, Arial, sans-serif"
NOTE_FONT = "Lato, Noto Sans, sans-serif"


def to_date(year):
    whole = int(year)
    start = datetime(whole, 1, 1)
    return start + (datetime(whole + 1, 1, 1) - start) * (year - whole)


def split(series):
    return [to_date(t) for t, _ in series], [v for _, v in series]


fig = make_subplots(rows=4, cols=1, shared_xaxes=True,
                    specs=[[{}], [{}], [{}], [{"secondary_y": True}]])

px_, py_ = split(PEAK_LUMI)
fig.add_trace(go.Scatter(x=px_, y=py_, mode="lines", line=dict(color=RED, width=2.6),
                         showlegend=False), row=1, col=1)

lx, ly = split(DAILY_LUMI_LOW)
hx, hy = split(DAILY_LUMI_HIGH)
fig.add_trace(go.Scatter(x=lx, y=ly, mode="lines", line=dict(color=GREEN, width=1.4),
                         showlegend=False), row=2, col=1)
fig.add_trace(go.Scatter(x=hx, y=hy, mode="lines", line=dict(color=GREEN, width=1.6),
                         fill="tonexty", fillcolor=GREEN_FILL, showlegend=False), row=2, col=1)

ex, ey = split(LER_CURRENT)
fig.add_trace(go.Scatter(x=ex, y=ey, mode="lines", name="LER (e+)",
                         line=dict(color=LER_COLOR, width=2)), row=3, col=1)
hx2, hy2 = split(HER_CURRENT)
fig.add_trace(go.Scatter(x=hx2, y=hy2, mode="lines", name="HER (e-)",
                         line=dict(color=HER_COLOR, width=2)), row=3, col=1)

elx, ely = split(EFFICIENCY_LOW)
ehx, ehy = split(EFFICIENCY_HIGH)
fig.add_trace(go.Scatter(x=elx, y=ely, mode="lines", line=dict(color=TEAL, width=1.4),
                         showlegend=False), row=4, col=1, secondary_y=False)
fig.add_trace(go.Scatter(x=ehx, y=ehy, mode="lines", line=dict(color=TEAL, width=1.6),
                         fill="tonexty", fillcolor=TEAL_FILL, showlegend=False), row=4, col=1, secondary_y=False)
ix, iy = split(INTEGRATED_LUMI)
fig.add_trace(go.Scatter(x=ix, y=iy, mode="lines", line=dict(color=PURPLE, width=2.6),
                         showlegend=False), row=4, col=1, secondary_y=True)

# ---- geometry (pixels of the 1868 x 1182 page) ----
W, H = 1868, 1182
ML, MR, MT, MB = 125, 266, 48, 69
PW, PH = W - ML - MR, H - MT - MB


def fx(px):
    return (px - ML) / PW


def fy(py):
    return (H - MB - py) / PH


common_x = dict(
    domain=[0, 1], range=X_RANGE, type="date", automargin=False,
    showline=True, linecolor="#4a4a4a", linewidth=2, mirror=True,
    tickmode="array", tickvals=X_TICK_DATES, ticktext=X_TICK_TEXT,
    ticks="inside", ticklen=12, tickwidth=1.5, tickcolor="#333",
    showgrid=True, gridcolor="#555", gridwidth=1,
    minor=dict(dtick="M4", tick0="2000-01-01", ticks="inside", ticklen=6, tickcolor="#555",
               showgrid=True, gridcolor="#b5b5b5", griddash="dot", gridwidth=1),
    zeroline=False,
)
for i in range(1, 5):
    key = "xaxis" if i == 1 else f"xaxis{i}"
    opts = dict(common_x)
    opts["showticklabels"] = (i == 4)
    opts["tickfont"] = dict(family=AXIS_FONT, size=22, color="#222")
    fig.layout[key].update(opts)


def y_opts(domain, rng, major, minor_step, tickvals=None, ticktext=None):
    d = dict(domain=domain, range=rng, automargin=False,
             showline=True, linecolor="#4a4a4a", linewidth=2, mirror="ticks",
             ticks="inside", ticklen=34, tickwidth=2, tickcolor="#444",
             showgrid=True, gridcolor="#8a8a8a", griddash="dot", gridwidth=1.5, zeroline=False,
             tickfont=dict(family=AXIS_FONT, size=18, color="#2a2a2a"),
             minor=dict(dtick=minor_step, tick0=0, ticks="inside", ticklen=10, tickcolor="#555",
                        showgrid=True, gridcolor="#c4c4c4", griddash="dot", gridwidth=1))
    if tickvals is not None:
        d.update(tickmode="array", tickvals=tickvals, ticktext=ticktext)
    else:
        d.update(tickmode="linear", tick0=0, dtick=major)
    return d


fig.layout.yaxis.update(y_opts([fy(312), fy(48)], [0, 18.2], 5, 1))
fig.layout.yaxis2.update(y_opts([fy(581), fy(316)], [0, 1300], 200, 50))
fig.layout.yaxis3.update(y_opts([fy(848), fy(585)], [0, 2.1], 0.5, 0.1,
                                tickvals=[0.5, 1, 1.5, 2], ticktext=[".5", "1", "1.5", "2"]))
fig.layout.yaxis4.update(y_opts([0, fy(848)], [0, 100], 20, 5))
fig.layout.yaxis5.update(domain=[0, fy(848)], range=[0, 1000], tickmode="linear", tick0=0, dtick=200,
                         automargin=False, showgrid=False, zeroline=False, showline=False, ticks="",
                         tickfont=dict(family=AXIS_FONT, size=18, color="#2a2a2a"))

# ---- label boxes with a soft vertical blue gradient ----
shapes = []
annotations = []


def label_box(x0, y0, x1, y1, text, size):
    top, bottom = (226, 235, 252), (165, 196, 243)
    n = 18
    for k in range(n):
        t = k / (n - 1)
        c = tuple(int(round(top[j] + (bottom[j] - top[j]) * t)) for j in range(3))
        ya = y0 + (y1 - y0) * k / n
        yb = y0 + (y1 - y0) * (k + 1) / n
        shapes.append(dict(type="rect", xref="paper", yref="paper", x0=fx(x0), x1=fx(x1),
                           y0=fy(yb), y1=fy(ya), line=dict(width=0), fillcolor=f"rgb{c}", layer="above"))
    shapes.append(dict(type="rect", xref="paper", yref="paper", x0=fx(x0), x1=fx(x1), y0=fy(y1), y1=fy(y0),
                       line=dict(color="#4a78be", width=2.5), fillcolor="rgba(0,0,0,0)", layer="above"))
    annotations.append(dict(xref="paper", yref="paper", x=fx(x0 + 20), y=fy((y0 + y1) / 2), text=text,
                            showarrow=False, xanchor="left", yanchor="middle",
                            font=dict(family=NOTE_FONT, size=size, color="#000")))


label_box(185, 71, 563, 149, "Peak luminosity", 44)
label_box(185, 341, 753, 418, "Daily integrated luminosity", 44)
label_box(444, 853, 715, 917, "Daily efficiency", 32)


def text(x, y, s, size, color="#222", family=AXIS_FONT, xanchor="center", angle=0):
    annotations.append(dict(xref="paper", yref="paper", x=fx(x), y=fy(y), text=s, showarrow=False,
                            xanchor=xanchor, yanchor="middle", textangle=angle,
                            font=dict(family=family, size=size, color=color)))


def arrow(x_tail, x_tip, y, color, width, head=15):
    # horizontal arrow: a shaft plus a filled triangular head (paper coordinates)
    direction = 1 if x_tip > x_tail else -1
    base = x_tip - direction * head
    shapes.append(dict(type="line", xref="paper", yref="paper", x0=fx(x_tail), x1=fx(base),
                       y0=fy(y), y1=fy(y), line=dict(color=color, width=width)))
    path = (f"M {fx(x_tip)} {fy(y)} L {fx(base)} {fy(y - head * 0.45)} "
            f"L {fx(base)} {fy(y + head * 0.45)} Z")
    shapes.append(dict(type="path", xref="paper", yref="paper", path=path,
                       fillcolor=color, line=dict(color=color, width=1)))


# title and run annotations
text(864, 21, "<b>Oct. 1999 - June 2008</b>", 35, "#1a1a1a")
text(1483, 17, "Crab Crossing", 24, "#222")
arrow(1367, 1610, 33, ARROW_RED, 3)
arrow(852, 1610, 1146, TEAL, 4, head=18)
text(1227, 1164, "Continuous Injection", 26, "#222")
text(1385, 1174, "Update: 6/18/2008 10:49:28", 16, "#333", xanchor="left")

# values at the right margin
arrow(1656, 1610, 58, ARROW_RED, 3)
text(1658, 45, "Peak Luminosity", 25, ARROW_RED, NOTE_FONT, "left")
text(1849, 80, "17.12 /nb/s", 26, ARROW_RED, NOTE_FONT, "right")
arrow(1655, 1610, 330, GREEN, 3)
text(1660, 330, "1232 /pb/day", 28, GREEN, NOTE_FONT, "left")
text(1616, 538, "7.82 /fb/7 days", 27, GREEN, NOTE_FONT, "left")
text(1616, 573, "30.21 /fb/30 days", 27, GREEN, NOTE_FONT, "left")
arrow(1725, 1680, 887, PURPLE, 3)
text(1730, 887, "850 /fb", 27, PURPLE, NOTE_FONT, "left")

# axis titles
text(52, 179, "<b>Peak luminosity<br>in a day<br>(1/nb/s)</b>", 22, "#111", angle=-90)
text(50, 459, "<b>Daily integrated<br>luminosity (1/pb/day)</b>", 21, "#111", angle=-90)
text(60, 715, "<b>Peak beam currents<br>in a day (A)</b>", 21, "#111", angle=-90)
text(58, 979, "<b>Daily efficiency<br>(%)</b>", 21, TEAL, angle=-90)
text(1684, 979, "<b>Integrated<br>luminosity (1/fb)</b>", 21, PURPLE, angle=90)

fig.update_layout(
    width=W, height=H, margin=dict(l=ML, r=MR, t=MT, b=MB, autoexpand=False),
    paper_bgcolor="white", plot_bgcolor="white",
    shapes=shapes, annotations=annotations,
    legend=dict(x=fx(167), y=fy(598), xanchor="left", yanchor="top", bgcolor="white",
                bordercolor="#222", borderwidth=2, font=dict(family=AXIS_FONT, size=22, color="#222"),
                tracegroupgap=0, traceorder="normal", itemwidth=40),
)

fig.write_html("out.html")
